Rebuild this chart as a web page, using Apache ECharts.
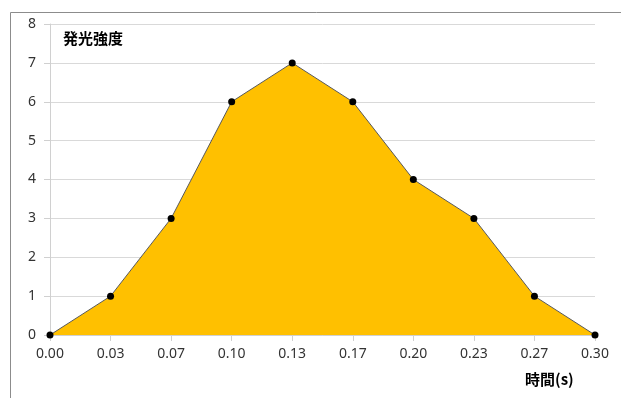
<!DOCTYPE html>
<html>
<head>
<meta charset="utf-8">
<script src="https://cdn.jsdelivr.net/npm/echarts@6/dist/echarts.min.js"></script>
<style>
  html, body { margin: 0; padding: 0; background: #fff; }
  #chart { width: 621px; height: 398px; }
</style>
</head>
<body>
<div id="chart"></div>
<script>
// Emission intensity over time
const timeLabels = ['0.00', '0.03', '0.07', '0.10', '0.13', '0.17', '0.20', '0.23', '0.27', '0.30'];
const intensity = [0, 1, 3, 6, 7, 6, 4, 3, 1, 0];
const yTicks = [0, 1, 2, 3, 4, 5, 6, 7, 8];

const FONT = '"Noto Sans", "Noto Sans CJK JP", sans-serif';

const chart = echarts.init(document.getElementById('chart'), null, { renderer: 'canvas' });
chart.setOption({
  animation: false,
  backgroundColor: '#ffffff',
  grid: { left: 50, right: 26, top: 24, bottom: 63, containLabel: false },
  graphic: [
    {
      type: 'rect',
      shape: { x: 10.5, y: 12.5, width: 700, height: 500 },
      style: { fill: 'none', stroke: '#8c8c8c', lineWidth: 1 },
      silent: true
    },
    {
      type: 'text',
      left: 63, top: 31,
      style: { text: '発光強度', font: 'bold 15px "Noto Sans CJK JP", sans-serif', fill: '#000' }
    },
    {
      type: 'text',
      left: 525, top: 372,
      style: { text: '時間(s)', font: 'bold 15px "Noto Sans CJK JP", sans-serif', fill: '#000' }
    }
  ],
  xAxis: {
    type: 'category',
    data: timeLabels,
    boundaryGap: false,
    axisLine: { show: true, lineStyle: { color: '#d0d0d0', width: 1 } },
    axisTick: { show: true, alignWithLabel: true, length: 6, lineStyle: { color: '#d0d0d0' } },
    axisLabel: { color: '#333333', fontFamily: FONT, fontSize: 14, margin: 12 },
    splitLine: { show: false }
  },
  yAxis: {
    type: 'value',
    min: yTicks[0],
    max: yTicks[yTicks.length - 1],
    interval: 1,
    axisLine: { show: true, lineStyle: { color: '#d0d0d0', width: 1 } },
    axisTick: { show: true, length: 6, lineStyle: { color: '#d0d0d0' } },
    axisLabel: { color: '#333333', fontFamily: FONT, fontSize: 14, margin: 14 },
    splitLine: { show: true, lineStyle: { color: '#d9d9d9', width: 1 } }
  },
  series: [{
    type: 'line',
    data: intensity,
    symbol: 'circle',
    symbolSize: 7,
    showAllSymbol: true,
    itemStyle: { color: '#000' },
    lineStyle: { color: '#595959', width: 1 },
    areaStyle: { color: '#FFC000', opacity: 1 },
    z: 3
  }]
});
</script>
</body>
</html>
